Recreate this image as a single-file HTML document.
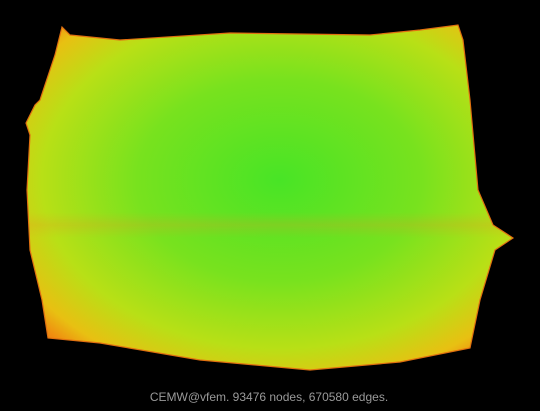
<!DOCTYPE html>
<html><head><meta charset="utf-8"><style>
html,body{margin:0;padding:0;background:#000;width:540px;height:411px;overflow:hidden}
svg{display:block}
</style></head><body>
<svg width="540" height="411" viewBox="0 0 540 411">
<defs>
<radialGradient id="g" cx="0.52" cy="0.45" r="0.65">
<stop offset="0" stop-color="#48e426"/>
<stop offset="0.45" stop-color="#78e21e"/>
<stop offset="0.75" stop-color="#b8e016"/>
<stop offset="0.92" stop-color="#e8c012"/>
<stop offset="1" stop-color="#f08a10"/>
</radialGradient>
<linearGradient id="band" x1="0" y1="0" x2="0" y2="1">
<stop offset="0" stop-color="#f09020" stop-opacity="0"/>
<stop offset="0.5" stop-color="#f09020" stop-opacity="0.22"/>
<stop offset="1" stop-color="#f09020" stop-opacity="0"/>
</linearGradient>
<clipPath id="clip"><polygon points="62,27 70,35 120,40 230,33 370,35 420,30 458,25 463,40 470,100 478,190 493,225 513,238 495,250 480,300 470,348 400,362 310,370 200,360 100,343 48,338 42,300 30,250 27,190 30,135 26,123 35,105 40,100 55,55"/></clipPath>
</defs>
<polygon id="shape" fill="url(#g)" stroke="#e07010" stroke-width="1.2" points="62,27 70,35 120,40 230,33 370,35 420,30 458,25 463,40 470,100 478,190 493,225 513,238 495,250 480,300 470,348 400,362 310,370 200,360 100,343 48,338 42,300 30,250 27,190 30,135 26,123 35,105 40,100 55,55"/>
<rect clip-path="url(#clip)" x="20" y="212" width="500" height="26" fill="url(#band)"/>
<text x="269" y="401" text-anchor="middle" font-family="Liberation Sans, sans-serif" font-size="12" fill="#9a9a9a">CEMW@vfem. 93476 nodes, 670580 edges.</text>
</svg>
</body></html>
